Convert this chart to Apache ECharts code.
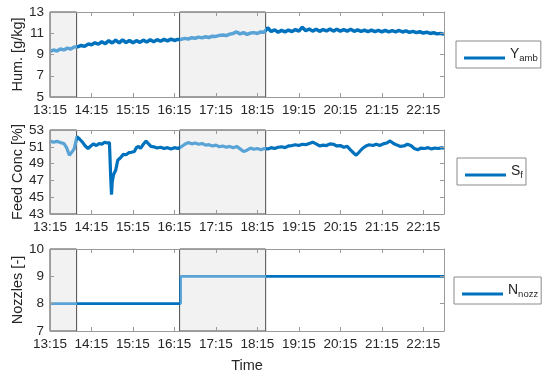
<!DOCTYPE html>
<html><head><meta charset="utf-8">
<script src="https://cdn.jsdelivr.net/npm/echarts@6/dist/echarts.min.js"></script>
<style>html,body{margin:0;padding:0;background:#fff}#c{width:546px;height:374px}</style>
</head><body><div id="c"></div>
<script>
// x values are minutes after 13:15
const xTickLabels = ['13:15','14:15','15:15','16:15','17:15','18:15','19:15','20:15','21:15','22:15'];
const shadeRegions = [[0, 38.5], [187.5, 312]];

// Humidity [g/kg], [minute, value]
const humidity = [
[0,9.30],[5,9.42],[10,9.33],[15,9.52],[20,9.43],[25,9.60],[30,9.52],[35,9.70],[40,9.72],[45,9.85],
[50,9.76],[55,9.98],[60,9.92],[65,10.10],[70,9.98],[75,10.20],[80,10.02],[85,10.30],[90,10.08],[95,10.35],
[100,10.10],[105,10.38],[110,10.12],[115,10.32],[120,10.10],[125,10.30],[130,10.14],[135,10.35],[140,10.18],[145,10.38],
[150,10.20],[155,10.40],[160,10.25],[165,10.42],[170,10.28],[175,10.45],[180,10.32],[185,10.42],[190,10.44],[195,10.52],
[200,10.46],[205,10.58],[210,10.53],[215,10.64],[220,10.56],[225,10.67],[230,10.60],[235,10.72],[240,10.70],[245,10.80],
[250,10.84],[255,10.78],[260,10.92],[265,10.98],[270,11.12],[275,10.94],[280,11.06],[285,10.90],[290,11.02],[295,11.06],
[300,10.98],[305,11.12],[310,11.10],[315,11.52],[320,11.16],[325,11.32],[330,11.10],[335,11.27],[340,11.13],[345,11.30],
[350,11.16],[355,11.34],[360,11.20],[365,11.57],[370,11.23],[375,11.40],[380,11.20],[385,11.37],[390,11.18],[395,11.35],
[400,11.22],[405,11.40],[410,11.20],[415,11.37],[420,11.20],[425,11.34],[430,11.20],[435,11.37],[440,11.18],[445,11.32],
[450,11.18],[455,11.30],[460,11.16],[465,11.29],[470,11.16],[475,11.27],[480,11.14],[485,11.26],[490,11.13],[495,11.24],
[500,11.13],[505,11.26],[510,11.12],[515,11.22],[520,11.08],[525,11.18],[530,11.06],[535,11.14],[540,11.02],[545,11.10],
[550,10.98],[555,11.05],[560,10.94],[565,10.99],[570,10.90]
];

// Feed concentration [%], [minute, value]
const feedConc = [
[0,51.70],[5,51.55],[10,51.65],[15,51.50],[20,51.40],[24,50.90],[28,50.00],[31,50.30],[35,50.75],[39,52.20],
[43,51.90],[47,51.55],[51,51.10],[55,50.80],[59,51.10],[63,51.35],[67,51.15],[71,51.40],[75,51.30],[79,51.55],
[83,51.45],[86,51.50],[87,51.30],[88,47.00],[89,45.30],[90,46.80],[92,47.70],[95,48.20],[98,49.40],[102,49.70],
[106,50.10],[110,50.05],[114,50.30],[118,50.35],[122,50.45],[125,50.90],[128,51.05],[131,50.80],[135,51.30],[139,51.70],
[142,51.40],[146,51.05],[150,51.00],[155,50.85],[160,50.95],[165,50.80],[170,50.90],[175,50.75],[180,50.90],[185,50.80],
[190,51.00],[195,51.30],[200,51.50],[205,51.35],[210,51.45],[215,51.30],[220,51.40],[225,51.20],[230,51.25],[235,51.10],
[240,51.20],[245,51.00],[250,51.10],[255,50.95],[260,51.05],[265,50.90],[270,51.05],[275,50.75],[280,50.45],[285,50.60],
[290,50.85],[295,50.70],[300,50.80],[305,50.65],[310,50.80],[315,50.75],[320,50.90],[325,50.80],[330,50.95],[335,51.00],
[340,50.90],[345,51.10],[350,51.15],[355,51.25],[360,51.15],[365,51.30],[370,51.25],[375,51.40],[380,51.55],[385,51.35],
[390,51.10],[395,51.20],[400,51.15],[405,51.35],[410,51.30],[415,51.10],[420,51.15],[425,50.95],[430,51.05],[435,50.60],
[440,50.20],[443,50.00],[447,50.35],[452,50.80],[457,51.10],[462,51.25],[467,51.15],[472,51.30],[477,51.15],[482,51.35],
[487,51.45],[492,51.70],[497,51.40],[502,51.20],[507,51.05],[512,51.10],[517,51.30],[522,51.15],[527,50.80],[532,50.65],
[537,50.85],[542,50.80],[547,50.90],[552,50.75],[557,50.85],[562,50.80],[567,50.90],[570,50.80]
];

// Number of nozzles [-], [minute, value]
const nozzles = [[0,8],[189,8],[189,9],[570,9]];

const seriesNames = ['Y_amb', 'S_f', 'N_nozz'];
const legendRich = {'Y_amb': '{a|Y}{b|amb}', 'S_f': '{a|S}{b|f}', 'N_nozz': '{a|N}{b|nozz}'};
const yNames = ['Hum. [g/kg]', 'Feed Conc [%]', 'Nozzles [-]'];
const yRanges = [[5, 13, 2], [43, 53, 2], [7, 10, 1]];
const lineWidths = [3.5, 3.2, 2.6];

const DARK = '#0072BD', LIGHT = '#5AA3D6';
const AXIS = '#9a9a9a', TXT = '#262626';
const FONT = '"Liberation Sans", Arial, Helvetica, sans-serif';

const grids = [
  {left: 50, width: 394, top: 12, height: 85},
  {left: 50, width: 394, top: 130, height: 84},
  {left: 50, width: 394, top: 249, height: 83}
];

const xAxes = [], yAxes = [];
for (let i = 0; i < 3; i++) {
  xAxes.push({
    type: 'value', gridIndex: i, min: 0, max: 570, interval: 60, z: 5,
    name: i === 2 ? 'Time' : '', nameLocation: 'middle', nameGap: 27, nameMoveOverlap: false,
    nameTextStyle: {fontSize: 14.5, color: TXT, fontFamily: FONT},
    axisLine: {show: true, lineStyle: {color: AXIS, width: 1}},
    axisTick: {show: true, inside: true, length: 4, lineStyle: {color: AXIS}},
    axisLabel: {show: true, margin: 6, fontSize: 13.5, color: TXT, fontFamily: FONT,
      formatter: v => { const k = Math.round(v / 60); return (v % 60 === 0 && xTickLabels[k]) ? xTickLabels[k] : ''; }},
    splitLine: {show: false}
  });
}
for (let i = 0; i < 3; i++) {
  xAxes.push({
    type: 'value', gridIndex: i, position: 'top', min: 0, max: 570, interval: 60, z: 5,
    axisLine: {show: true, onZero: false, lineStyle: {color: AXIS, width: 1}},
    axisTick: {show: true, inside: true, length: 4, lineStyle: {color: AXIS}},
    axisLabel: {show: false}, splitLine: {show: false}
  });
}
for (let i = 0; i < 3; i++) {
  yAxes.push({
    type: 'value', gridIndex: i, min: yRanges[i][0], max: yRanges[i][1], interval: yRanges[i][2], z: 5,
    name: yNames[i], nameLocation: 'middle', nameGap: 25, nameMoveOverlap: false,
    nameTextStyle: {fontSize: 14.5, color: TXT, fontFamily: FONT},
    axisLine: {show: true, onZero: false, lineStyle: {color: AXIS, width: 1}},
    axisTick: {show: true, inside: true, length: 4, lineStyle: {color: AXIS}},
    axisLabel: {show: true, margin: 6, fontSize: 13.5, color: TXT, fontFamily: FONT},
    splitLine: {show: false}
  });
}
for (let i = 0; i < 3; i++) {
  yAxes.push({
    type: 'value', gridIndex: i, position: 'right', min: yRanges[i][0], max: yRanges[i][1], interval: yRanges[i][2], z: 5,
    axisLine: {show: true, onZero: false, lineStyle: {color: AXIS, width: 1}},
    axisTick: {show: true, inside: true, length: 4, lineStyle: {color: AXIS}},
    axisLabel: {show: false}, splitLine: {show: false}
  });
}

const datasets = [humidity, feedConc, nozzles];
const series = [];
// shaded background areas (on invisible helper series)
for (let i = 0; i < 3; i++) {
  series.push({
    type: 'line', name: 'shade' + i, xAxisIndex: i, yAxisIndex: i, z: 1,
    data: datasets[i], showSymbol: false, silent: true,
    lineStyle: {opacity: 0, width: 0},
    markArea: {
      silent: true,
      itemStyle: {color: '#f2f2f2', borderColor: '#4d4d4d', borderWidth: 1},
      data: shadeRegions.map(r => [{xAxis: r[0]}, {xAxis: r[1]}])
    }
  });
}
for (let i = 0; i < 3; i++) {
  series.push({
    type: 'line', name: seriesNames[i], xAxisIndex: i, yAxisIndex: i, z: 3,
    data: datasets[i], showSymbol: false, symbol: 'none',
    lineStyle: {width: lineWidths[i]},
    animation: false
  });
}

const pieces = [
  {lt: shadeRegions[0][1], color: LIGHT},
  {gte: shadeRegions[0][1], lt: shadeRegions[1][0], color: DARK},
  {gte: shadeRegions[1][0], lt: shadeRegions[1][1], color: LIGHT},
  {gte: shadeRegions[1][1], color: DARK}
];

const legendPos = [
  {left: 456, top: 41},
  {left: 457, top: 158},
  {left: 454, top: 277}
];
const legends = legendPos.map((p, i) => ({
  left: p.left, top: p.top, orient: 'vertical',
  data: [{name: seriesNames[i], itemStyle: {color: DARK}}],
  icon: 'rect', itemWidth: 41, itemHeight: 3,
  padding: [6, 3, 5, 8],
  borderColor: '#8a8a8a', borderWidth: 1, backgroundColor: '#fff',
  selectedMode: false,
  formatter: n => legendRich[n],
  textStyle: {
    fontFamily: FONT, color: TXT,
    rich: {
      a: {fontSize: 14, color: TXT, fontFamily: FONT, padding: [0, 0, 8, 0]},
      b: {fontSize: 9.5, color: TXT, fontFamily: FONT}
    }
  }
}));

const chart = echarts.init(document.getElementById('c'), null, {renderer: 'canvas'});
chart.setOption({
  animation: false,
  color: [DARK],
  textStyle: {fontFamily: FONT},
  grid: grids,
  xAxis: xAxes,
  yAxis: yAxes,
  legend: legends,
  visualMap: [{
    type: 'piecewise', show: false, dimension: 0,
    seriesIndex: [3, 4, 5],
    pieces: pieces
  }],
  series: series
});
</script>
</body></html>
